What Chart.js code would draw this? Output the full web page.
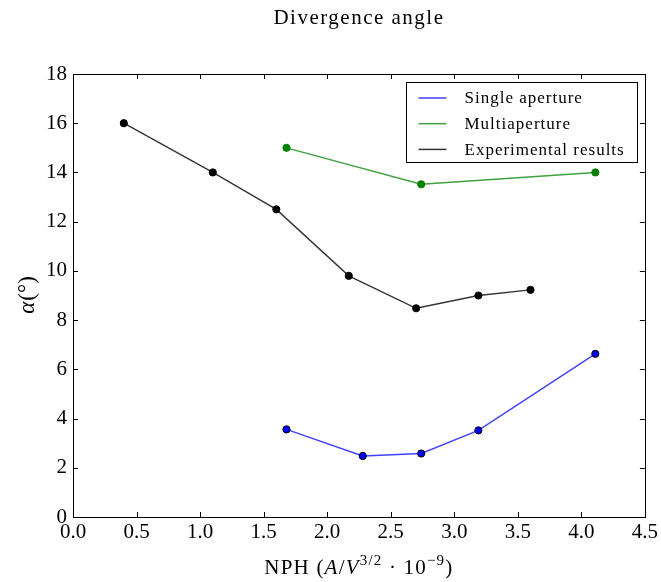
<!DOCTYPE html>
<html>
<head>
<meta charset="utf-8">
<script src="https://cdn.jsdelivr.net/npm/chart.js@4.4.1/dist/chart.umd.min.js"></script>
<style>
  html, body { margin: 0; padding: 0; background: #fff; }
  #wrap { width: 661px; height: 582px; }
</style>
</head>
<body>
<div id="wrap"><canvas id="divChart" width="661" height="582"></canvas></div>
<script>
// data
const seriesNames = ['Single aperture', 'Multiaperture', 'Experimental results'];
const singleX = [1.68, 2.28, 2.74, 3.19, 4.11];
const singleY = [3.56, 2.48, 2.58, 3.52, 6.63];
const multiX = [1.68, 2.74, 4.11];
const multiY = [15.0, 13.52, 14.0];
const expX = [0.4, 1.1, 1.6, 2.17, 2.7, 3.19, 3.6];
const expY = [16.0, 14.0, 12.5, 9.8, 8.48, 9.0, 9.23];
const xTicks = [0, 0.5, 1, 1.5, 2, 2.5, 3, 3.5, 4, 4.5];
const yTicks = [0, 2, 4, 6, 8, 10, 12, 14, 16, 18];

const SERIF = "'Liberation Serif', 'DejaVu Serif', serif";

function toPoints(xs, ys) {
  return xs.map((x, i) => ({ x: x, y: ys[i] }));
}

// frame, inward ticks, titles and legend (matplotlib look)
const mplLook = {
  id: 'mplLook',
  afterDraw(chart) {
    const ctx = chart.ctx;
    const a = chart.chartArea;
    const xs = chart.scales.x, ys = chart.scales.y;
    ctx.save();
    ctx.strokeStyle = '#000';
    ctx.lineWidth = 1;
    ctx.strokeRect(Math.round(a.left) + 0.5, Math.round(a.top) + 0.5,
      Math.round(a.right - a.left), Math.round(a.bottom - a.top));

    // ticks pointing in, on all four sides
    const tl = 5;
    ctx.beginPath();
    xTicks.forEach(v => {
      const px = Math.round(xs.getPixelForValue(v)) + 0.5;
      ctx.moveTo(px, a.bottom); ctx.lineTo(px, a.bottom - tl);
      ctx.moveTo(px, a.top); ctx.lineTo(px, a.top + tl);
    });
    yTicks.forEach(v => {
      const py = Math.round(ys.getPixelForValue(v)) + 0.5;
      ctx.moveTo(a.left, py); ctx.lineTo(a.left + tl, py);
      ctx.moveTo(a.right, py); ctx.lineTo(a.right - tl, py);
    });
    ctx.stroke();

    const cx = (a.left + a.right) / 2;
    ctx.fillStyle = '#000';

    // title
    ctx.font = '21px ' + SERIF;
    ctx.letterSpacing = '1.5px';
    ctx.textAlign = 'center';
    ctx.textBaseline = 'alphabetic';
    ctx.fillText('Divergence angle', cx, 24);

    // x axis title with italics and superscripts
    ctx.letterSpacing = '1.2px';
    const parts = [
      { t: 'NPH (', f: '21px ' + SERIF, dy: 0 },
      { t: 'A', f: 'italic 21px ' + SERIF, dy: 0 },
      { t: '/', f: '21px ' + SERIF, dy: 0 },
      { t: 'V', f: 'italic 21px ' + SERIF, dy: 0 },
      { t: '3/2', f: '15px ' + SERIF, dy: -9 },
      { t: ' \u00b7 10', f: '21px ' + SERIF, dy: 0 },
      { t: '\u22129', f: '15px ' + SERIF, dy: -9 },
      { t: ')', f: '21px ' + SERIF, dy: 0 }
    ];
    let total = 0;
    parts.forEach(p => { ctx.font = p.f; p.w = ctx.measureText(p.t).width; total += p.w; });
    let px = cx - total / 2;
    ctx.textAlign = 'left';
    parts.forEach(p => {
      ctx.font = p.f;
      ctx.fillText(p.t, px, 574 + p.dy);
      px += p.w;
    });
    ctx.letterSpacing = '0px';

    // y axis title
    ctx.save();
    ctx.translate(34, (a.top + a.bottom) / 2);
    ctx.rotate(-Math.PI / 2);
    ctx.font = 'italic 23px ' + SERIF;
    const wA = ctx.measureText('\u03b1').width;
    ctx.font = '23px ' + SERIF;
    const wR = ctx.measureText('(\u00b0)').width;
    ctx.textAlign = 'left';
    ctx.font = 'italic 23px ' + SERIF;
    ctx.fillText('\u03b1', -(wA + wR) / 2, 0);
    ctx.font = '23px ' + SERIF;
    ctx.fillText('(\u00b0)', -(wA + wR) / 2 + wA + 1, 0);
    ctx.restore();

    // legend box
    const bw = 231, bh = 80;
    const bx = Math.round(a.right - 8 - bw) + 0.5, by = Math.round(a.top + 8) + 0.5;
    ctx.fillStyle = '#fff';
    ctx.fillRect(bx, by, bw, bh);
    ctx.strokeStyle = '#000';
    ctx.strokeRect(bx, by, bw, bh);
    ctx.font = '17px ' + SERIF;
    ctx.letterSpacing = '1px';
    ctx.textBaseline = 'middle';
    chart.data.datasets.forEach((ds, i) => {
      const ry = by + 15.5 + i * 25.7;
      ctx.strokeStyle = ds.borderColor;
      ctx.lineWidth = 1.5;
      ctx.beginPath();
      ctx.moveTo(bx + 12, ry); ctx.lineTo(bx + 40, ry);
      ctx.stroke();
      ctx.fillStyle = '#000';
      ctx.fillText(ds.label, bx + 58, ry + 1);
    });
    ctx.restore();
  }
};

const ctx = document.getElementById('divChart');
const myChart = new Chart(ctx, {
  type: 'scatter',
  data: {
    datasets: [{
      label: seriesNames[0],
      data: toPoints(singleX, singleY),
      showLine: true,
      borderColor: 'rgba(0, 0, 255, 0.75)',
      borderWidth: 1.4,
      pointBackgroundColor: '#0000ff',
      pointBorderColor: '#000',
      pointBorderWidth: 1,
      pointRadius: 3.6
    }, {
      label: seriesNames[1],
      data: toPoints(multiX, multiY),
      showLine: true,
      borderColor: 'rgba(0, 128, 0, 0.75)',
      borderWidth: 1.4,
      pointBackgroundColor: '#008000',
      pointBorderColor: '#008000',
      pointBorderWidth: 1,
      pointRadius: 3.6
    }, {
      label: seriesNames[2],
      data: toPoints(expX, expY),
      showLine: true,
      borderColor: 'rgba(0, 0, 0, 0.8)',
      borderWidth: 1.4,
      pointBackgroundColor: '#000',
      pointBorderColor: '#000',
      pointBorderWidth: 1,
      pointRadius: 3.6
    }]
  },
  options: {
    responsive: false,
    animation: false,
    layout: { padding: { top: 74, right: 16, left: 0, bottom: 0 } },
    plugins: {
      legend: { display: false },
      title: { display: false },
      tooltip: { enabled: false }
    },
    scales: {
      x: {
        type: 'linear',
        min: 0, max: 4.5,
        afterBuildTicks: s => { s.ticks = xTicks.map(v => ({ value: v })); },
        afterFit: s => { s.height = 65; },
        grid: { display: false, drawTicks: false },
        border: { display: false },
        ticks: {
          padding: 3,
          color: '#000',
          font: { family: SERIF, size: 21 },
          maxRotation: 0,
          callback: v => Number(v).toFixed(1)
        }
      },
      y: {
        type: 'linear',
        min: 0, max: 18,
        afterBuildTicks: s => { s.ticks = yTicks.map(v => ({ value: v })); },
        afterFit: s => { s.width = 73; },
        grid: { display: false, drawTicks: false },
        border: { display: false },
        ticks: {
          padding: 6,
          color: '#000',
          font: { family: SERIF, size: 21 },
          callback: v => String(v)
        }
      }
    }
  },
  plugins: [mplLook]
});
</script>
</body>
</html>
